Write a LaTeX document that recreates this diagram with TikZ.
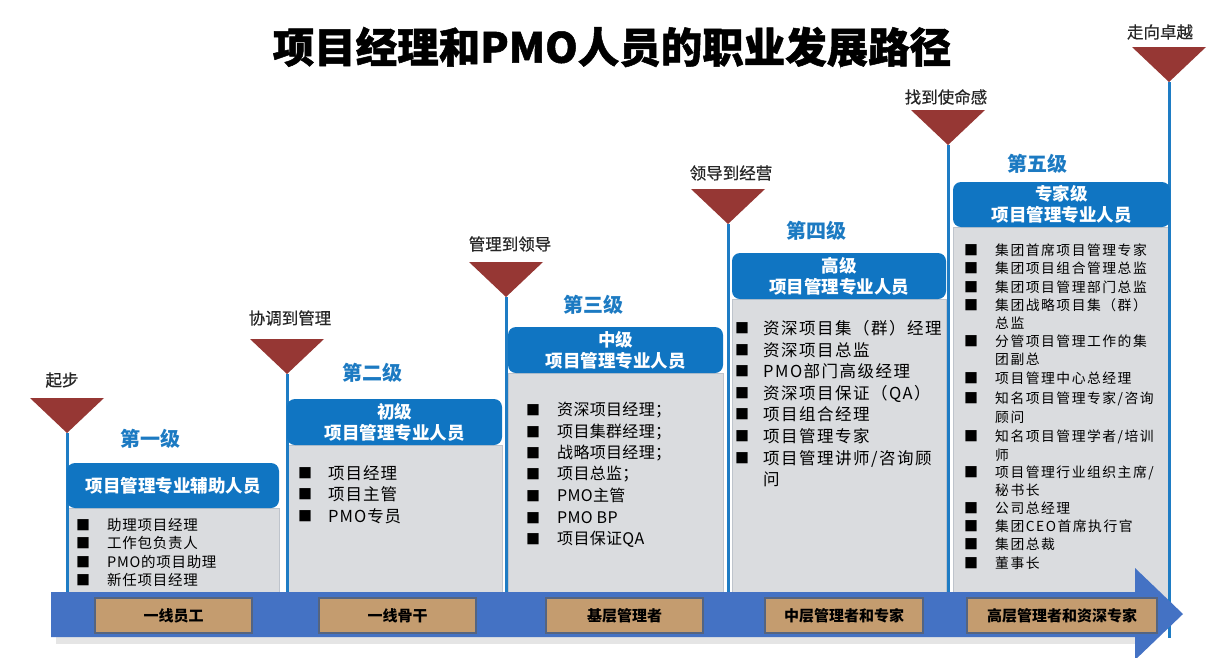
\documentclass[tikz,border=0pt]{standalone}
\usepackage{fontspec}
\setmainfont{Noto Sans CJK SC}
\usetikzlibrary{calc}

\definecolor{trired}{RGB}{150,55,52}
\definecolor{lineblue}{RGB}{30,124,196}
\definecolor{hdrblue}{RGB}{16,117,194}
\definecolor{stageblue}{RGB}{28,122,194}
\definecolor{bodygray}{RGB}{218,220,223}
\definecolor{bodyedge}{RGB}{190,196,204}
\definecolor{bandblue}{RGB}{68,114,196}
\definecolor{tanfill}{RGB}{196,156,111}
\definecolor{tanedge}{RGB}{84,100,128}

\begin{document}
\begin{tikzpicture}[x=1pt,y=-1pt,
	tri/.style={fill=trired},
	vline/.style={draw=lineblue,line width=3pt},
	body/.style={fill=bodygray,draw=bodyedge,line width=0.8pt,anchor=north west,inner sep=0},
	hdr/.style={fill=hdrblue,rounded corners=8pt,text=white,align=center,inner sep=0,
		font=\bfseries\fontsize{17.5}{21}\selectfont},
	stage/.style={text=stageblue,font=\bfseries\fontsize{20}{20}\selectfont},
	turnlbl/.style={text=black!85,font=\fontsize{16.5}{16.5}\selectfont\addfontfeatures{FakeBold=0.6}},
	tanbox/.style={fill=tanfill,draw=tanedge,line width=1.5pt,minimum height=35pt,inner sep=0,
		font=\bfseries\fontsize{15}{15}\selectfont},
	bul/.style={inner sep=0,font=\fontsize{14}{14}\selectfont},
	itm/.style={anchor=base west,inner sep=0}]

	\useasboundingbox (0,0) rectangle (1224,657);

	\node[font=\bfseries\fontsize{41.5}{41.5}\selectfont\addfontfeatures{FakeBold=1.2}] (title) at (612,47) {项目经理和PMO人员的职业发展路径};

	% gray bodies
	\node[body,minimum width=212pt,minimum height=84pt] (b1) at (67,508) {};
	\node[body,minimum width=215pt,minimum height=147pt] (b2) at (287,445) {};
	\node[body,minimum width=215pt,minimum height=219pt] (b3) at (508,373) {};
	\node[body,minimum width=214pt,minimum height=293pt] (b4) at (732,299) {};
	\node[body,minimum width=217pt,minimum height=401pt] (b5) at (953,227) {};

	% triangles and lines
	\coordinate (bandtop) at (0,592);
	\foreach \i/\x/\y in {1/67/433,2/287/374,3/506/297,4/728/224,5/948/145,6/1169/82} {
		\fill[tri] (\x-37,\y-35) -- (\x+37,\y-35) -- (\x,\y) -- cycle;
		\coordinate (t\i) at (\x,\y);
	}
	\foreach \i in {1,...,5}
		\draw[vline] (t\i) -- (t\i |- bandtop);
	\draw[vline] (t6) -- ($(t6 |- bandtop)+(0,46)$);

	\node[turnlbl] (s1) at (62,380) {起步};
	\node[turnlbl] (s2) at (290,318) {协调到管理};
	\node[turnlbl] (s3) at (510,244) {管理到领导};
	\node[turnlbl] (s4) at (731,173) {领导到经营};
	\node[turnlbl] (s5) at (946,97) {找到使命感};
	\node[turnlbl] (s6) at (1160,32) {走向卓越};

	\node[stage] (g1) at (150,439) {第一级};
	\node[stage] (g2) at (372,373) {第二级};
	\node[stage] (g3) at (593,305) {第三级};
	\node[stage] (g4) at (816,231) {第四级};
	\node[stage] (g5) at (1037,164) {第五级};

	% headers
	\node[hdr,minimum width=212pt,minimum height=45pt] (h1) at (173,485.5) {项目管理专业辅助人员};
	\node[hdr,minimum width=215pt,minimum height=46pt] (h2) at (394.5,422) {初级\\项目管理专业人员};
	\node[hdr,minimum width=215pt,minimum height=46pt] (h3) at (615.5,350) {中级\\项目管理专业人员};
	\node[hdr,minimum width=214pt,minimum height=46pt] (h4) at (839,276) {高级\\项目管理专业人员};
	\node[hdr,minimum width=217pt,minimum height=45pt] (h5) at (1061.5,204.5) {专家级\\项目管理专业人员};

	% items
	\foreach \yy/\txt in {525/助理项目经理,543/工作包负责人,562/PMO的项目助理,580/新任项目经理} {
		\node[bul] (p1-\yy) at (83,\yy) {■};
		\node[itm,font=\fontsize{14.5}{14.5}\selectfont\addfontfeatures{LetterSpace=5}] (i1-\yy) at (107,\yy+5.3) {\txt};
	}
	\foreach \yy/\txt in {473/项目经理,494/项目主管,516/PMO专员} {
		\node[bul] (p2-\yy) at (305,\yy) {■};
		\node[itm,font=\fontsize{16.5}{16.5}\selectfont\addfontfeatures{LetterSpace=6}] (i2-\yy) at (328,\yy+6) {\txt};
	}
	\foreach \yy/\txt in {410/资深项目经理；,432/项目集群经理；,453/战略项目经理；,474/项目总监；,496/PMO主管,518/PMO BP,539/项目保证QA} {
		\node[bul] (p3-\yy) at (533,\yy) {■};
		\node[itm,font=\fontsize{16}{16}\selectfont\addfontfeatures{LetterSpace=2}] (i3-\yy) at (557,\yy+5.8) {\txt};
	}
	\foreach \yy in {328,350,371,393,414,436,458}
		\node[bul] (p4-\yy) at (742,\yy) {■};
	\foreach \yy/\txt in {328/资深项目集（群）经理,350/资深项目总监,371/PMO部门高级经理,393/资深项目保证（QA）,
			414/项目组合经理,436/项目管理专家,458/{项目管理讲师/咨询顾},479/问}
		\node[itm,font=\fontsize{16.5}{16.5}\selectfont\addfontfeatures{LetterSpace=9}] (i4-\yy) at (763,\yy+6) {\txt};
	\foreach \yy in {250,268,287,305,341,378,398,436,472,508,526,544,563}
		\node[bul] (p5-\yy) at (971,\yy) {■};
	\foreach \yy/\txt in {250/集团首席项目管理专家,268/集团项目组合管理总监,287/集团项目管理部门总监,
			305/集团战略项目集（群）,323/总监,341/分管项目管理工作的集,359/团副总,378/项目管理中心总经理,
			398/{知名项目管理专家/咨询},417/顾问,436/{知名项目管理学者/培训},455/师,
			472/{项目管理行业组织主席/},490/秘书长,508/公司总经理,526/集团CEO首席执行官,544/集团总裁,563/董事长}
		\node[itm,font=\fontsize{13.8}{13.8}\selectfont\addfontfeatures{LetterSpace=11}] (i5-\yy) at (995,\yy+5) {\txt};

	% band arrow
	\fill[black!10] (56,637) rectangle (1135,644);
	\fill[bandblue] (51,592) -- (1135,592) -- (1135,568) -- (1183,614) -- (1135,660)
		-- (1135,637) -- (51,637) -- cycle;

	\node[tanbox,minimum width=157pt] (r1) at (173.5,615.5) {一线员工};
	\node[tanbox,minimum width=157pt] (r2) at (397.5,615.5) {一线骨干};
	\node[tanbox,minimum width=157pt] (r3) at (624.5,615.5) {基层管理者};
	\node[tanbox,minimum width=158pt] (r4) at (844,615.5) {中层管理者和专家};
	\node[tanbox,minimum width=190pt] (r5) at (1062,615.5) {高层管理者和资深专家};
\end{tikzpicture}
\end{document}
